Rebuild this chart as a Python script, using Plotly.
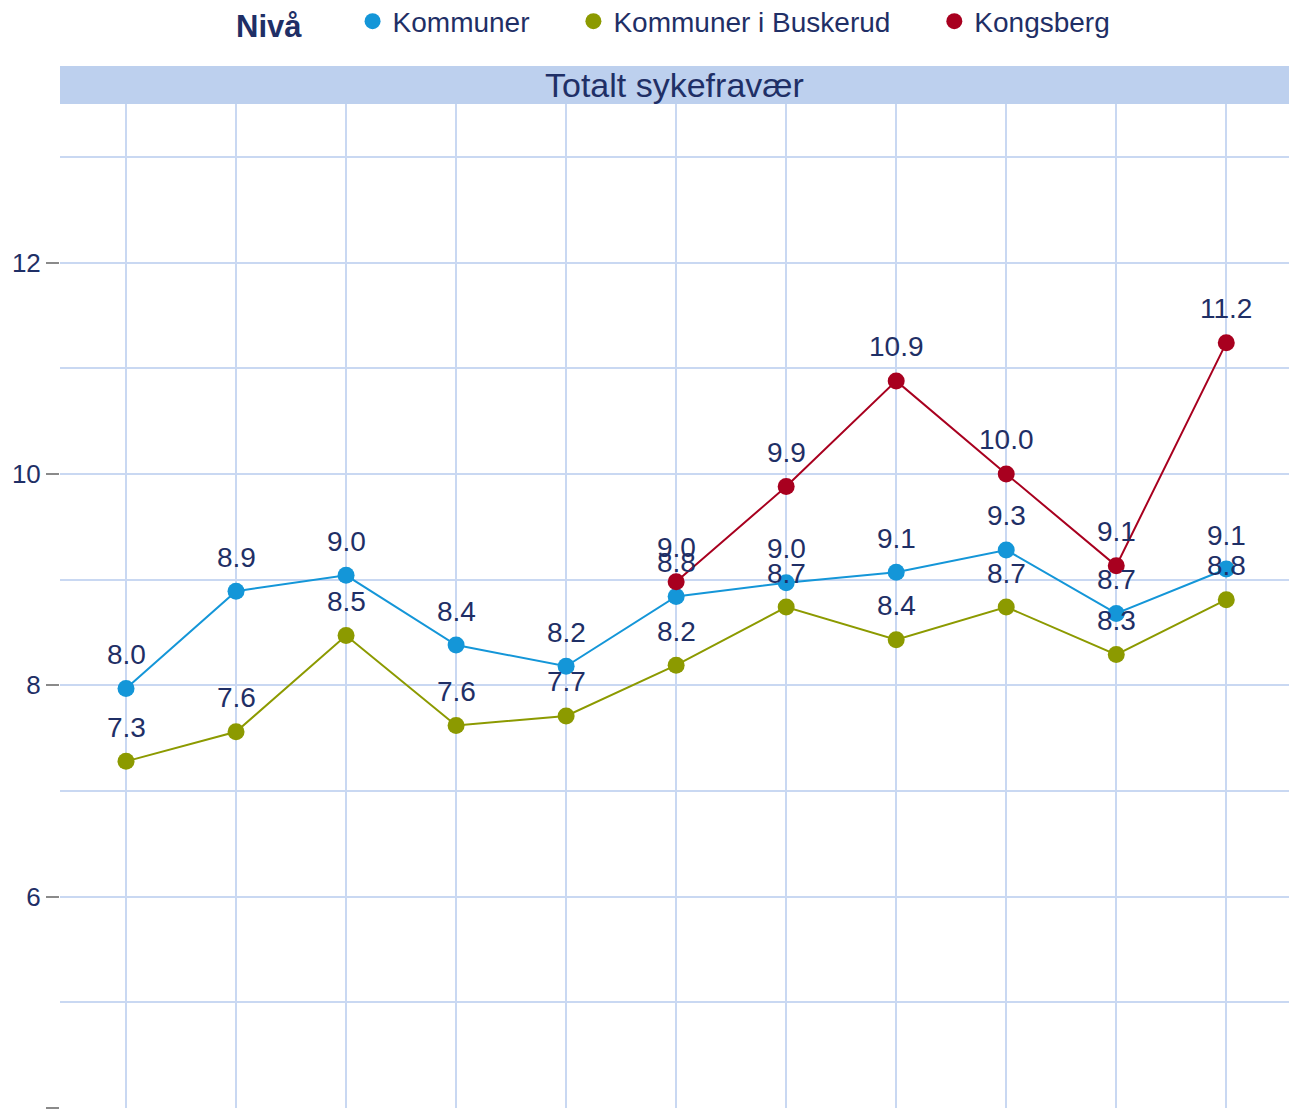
import plotly.graph_objects as go

periods = ["2009", "2010", "2011", "2012", "2013", "2014", "2015", "2016", "2017", "2018", "2019"]
kommuner = [7.97, 8.89, 9.04, 8.38, 8.18, 8.84, 8.97, 9.07, 9.28, 8.68, 9.10]
buskerud = [7.28, 7.56, 8.47, 7.62, 7.71, 8.19, 8.74, 8.43, 8.74, 8.29, 8.81]
kongsberg = [None, None, None, None, None, 8.98, 9.88, 10.88, 10.00, 9.13, 11.24]

series = [
    ("Kommuner", kommuner, "#1496d8"),
    ("Kommuner i Buskerud", buskerud, "#8c9a00"),
    ("Kongsberg", kongsberg, "#a8001f"),
]

FONT = "Liberation Sans, Arial, sans-serif"
NAVY = "#1f2f66"
GRID = "#c9d8f2"
NB = "\u00a0"

fig = go.Figure()
for name, vals, col in series:
    fig.add_trace(go.Scatter(
        x=list(range(len(periods))), y=vals, mode="lines+markers", name=name,
        line=dict(color=col, width=2), marker=dict(color=col, size=17),
        showlegend=False, connectgaps=False,
        customdata=periods,
    ))
for k, (name, vals, col) in enumerate(series):
    pad = NB * 5 if k < len(series) - 1 else ""
    fig.add_trace(go.Scatter(
        x=[None], y=[None], mode="markers", name=name + pad,
        marker=dict(color=col, size=17), showlegend=True,
    ))

annotations = []
for name, vals, col in series:
    for i, v in enumerate(vals):
        if v is None:
            continue
        annotations.append(dict(
            x=i, y=v, xref="x", yref="y", text=f"{v:.1f}", showarrow=False,
            yshift=34, yanchor="middle",
            font=dict(family=FONT, size=28, color=NAVY),
        ))

plot_h = 1109 - 104 - 1
strip_top = 1 + 38 / plot_h
annotations.append(dict(
    x=0.5, y=(1 + strip_top) / 2, xref="paper", yref="paper",
    text="Totalt sykefravær", showarrow=False, yanchor="middle",
    font=dict(family=FONT, size=34, color=NAVY),
))

fig.update_layout(
    width=1289, height=1109, autosize=False,
    margin=dict(l=60, r=0, t=104, b=1, autoexpand=False),
    paper_bgcolor="white", plot_bgcolor="white",
    font=dict(family=FONT, color=NAVY),
    annotations=annotations,
    shapes=[dict(type="rect", xref="paper", yref="paper", x0=0, x1=1,
                 y0=1, y1=strip_top, fillcolor="#bdd0ee", line=dict(width=0),
                 layer="below")],
    legend=dict(
        orientation="h", x=0.5, xanchor="center",
        y=(1108 - 22) / plot_h, yanchor="middle",
        title=dict(text="<b>Nivå</b>" + NB * 5, font=dict(family=FONT, size=31, color=NAVY)),
        font=dict(family=FONT, size=28, color=NAVY),
        itemwidth=30, bgcolor="rgba(0,0,0,0)",
    ),
    xaxis=dict(
        range=[-0.6, 10.57], showticklabels=False,
        tickvals=list(range(len(periods))), ticktext=periods,
        showgrid=True, gridcolor=GRID, gridwidth=2, zeroline=False,
        ticks="", showline=False,
    ),
    yaxis=dict(
        range=[4, 13.5], tickvals=[4, 6, 8, 10, 12],
        showgrid=True, gridcolor=GRID, gridwidth=2, zeroline=False,
        ticks="outside", ticklen=13, tickwidth=2, tickcolor="#8a8a8a",
        tickfont=dict(family=FONT, size=26, color=NAVY),
        minor=dict(dtick=1, tick0=0, showgrid=True, gridcolor=GRID, gridwidth=2, ticks=""),
        showline=False,
    ),
)

fig.write_html(
    "out.html",
    config={"responsive": False, "displayModeBar": False},
    default_width="1289px", default_height="1109px",
    post_script="document.body.style.margin='0';document.body.style.overflow='hidden';",
)
